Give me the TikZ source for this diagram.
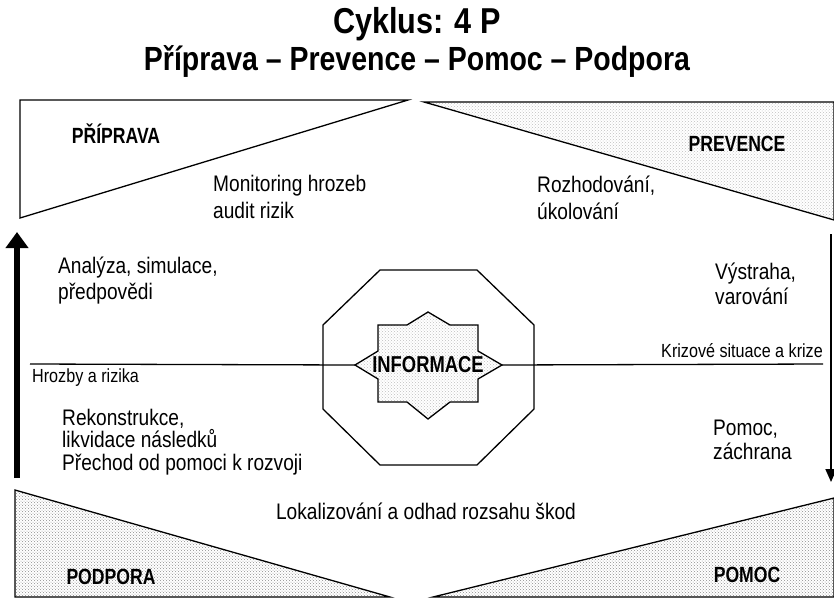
\documentclass[tikz,border=0pt]{standalone}
\usepackage{fontspec}
\setmainfont{Liberation Sans}[FakeStretch=0.85]
\newfontfamily\narrowfont{Liberation Sans}[FakeStretch=0.8]
\usetikzlibrary{arrows.meta,patterns}

\begin{document}
\begin{tikzpicture}[x=1pt,y=-1pt,
    edge/.style={line width=1.3pt,line join=miter},
    dense/.style={pattern=crosshatch dots,pattern color=black!45},
    light/.style={pattern=crosshatch dots,pattern color=black!25},
    phase/.style={font=\narrowfont\fontsize{22}{24}\selectfont\bfseries,inner sep=0pt},
    note/.style={font=\fontsize{22.5}{25}\selectfont,align=left,anchor=west,inner sep=0pt},
    small/.style={font=\fontsize{19}{21}\selectfont,inner sep=0pt}]
\useasboundingbox (0,0) rectangle (834,603);
% title
\node[font=\fontsize{36}{38}\selectfont\bfseries,anchor=base] (title) at (417,33) {Cyklus: 4 P};
\node[font=\fontsize{33.5}{36}\selectfont\bfseries,anchor=base] (subtitle) at (417,70) {Příprava – Prevence – Pomoc – Podpora};
% the four phases
\draw[edge,fill=white] (20,100) -- (408,100) -- (20,218) -- cycle;
\draw[edge,light] (424,102) -- (834,102) -- (834,220) -- cycle;
\draw[edge,dense] (15,490) -- (390,597) -- (15,597) -- cycle;
\draw[edge,dense] (433,597) -- (834,498) -- (834,597) -- cycle;
\node[phase] (priprava) at (116,134) {PŘÍPRAVA};
\node[phase] (prevence) at (737,144) {PREVENCE};
\node[phase] (podpora) at (111,577) {PODPORA};
\node[phase] (pomoc) at (747,575) {POMOC};
% cycle arrows
\draw[line width=6pt,-{Triangle[width=22pt,length=16pt]}] (17,478) -- (17,232);
\draw[line width=1.8pt,-{Triangle[width=11pt,length=13pt]}] (831,234) -- (831,482);
% information in the middle
\draw[edge,fill=white] (380,270) -- (477,270) -- (534,325) -- (534,409)
    -- (477,465) -- (380,465) -- (323,409) -- (323,325) -- cycle;
\coordinate (starL) at (355,365);
\coordinate (starR) at (502,365);
\coordinate (hrozbyEnd) at (30,364);
\coordinate (krizeEnd) at (823,364);
\draw[edge] (hrozbyEnd) -- (starL);
\draw[edge] (starR) -- (krizeEnd);
\draw[edge,light,preaction={fill=white}] (starL) -- (378,351) -- (378,325) -- (407,325)
    -- (428,312) -- (450,325) -- (478,325) -- (478,351) -- (starR) -- (478,379)
    -- (478,402) -- (450,402) -- (428,419) -- (407,402) -- (378,402) -- (378,379) -- cycle;
\node[font=\narrowfont\fontsize{23}{26}\selectfont\bfseries,inner sep=0pt] (info) at (428,365) {INFORMACE};
% texts
\node[note,font=\fontsize{22.5}{27}\selectfont] (monitor) at (213,197) {Monitoring hrozeb\\audit rizik};
\node[note,font=\fontsize{22.5}{27}\selectfont] (rozhod) at (537,198) {Rozhodování,\\úkolování};
\node[note,font=\fontsize{22.5}{26}\selectfont] (analyza) at (58,281) {Analýza, simulace,\\předpovědi};
\node[note] (vystraha) at (715,284) {Výstraha,\\varování};
\node[note,font=\fontsize{22.5}{22.5}\selectfont] (rekon) at (62,442) {Rekonstrukce,\\likvidace následků\\Přechod od pomoci k rozvoji};
\node[note,font=\fontsize{22.5}{24}\selectfont] (zachrana) at (713,440) {Pomoc,\\záchrana};
\node[small,anchor=west] (hrozby) at (32,378) {Hrozby a rizika};
\node[small,anchor=east] (krize) at (823,351) {Krizové situace a krize};
\node[note,anchor=center] (lokal) at (426,511) {Lokalizování a odhad rozsahu škod};
\end{tikzpicture}
\end{document}
